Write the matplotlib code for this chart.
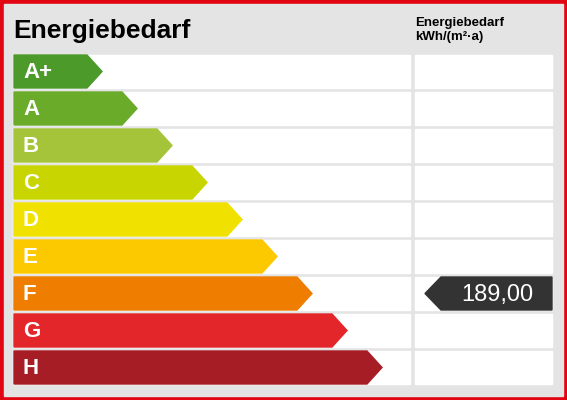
import matplotlib.pyplot as plt
from matplotlib.patches import Polygon, Rectangle

CLASSES = ["A+", "A", "B", "C", "D", "E", "F", "G", "H"]
COLORS = ["#4b9a2a", "#6aab2a", "#a5c43a", "#c9d500", "#f1e100",
          "#fcc800", "#ee7d00", "#e3262a", "#a61d26"]
VALUE_LABEL = "189,00"
VALUE_CLASS = "F"
TITLE = "Energiebedarf"
UNIT_LABEL = "Energiebedarf\nkWh/(m²·a)"

W, H = 567, 400
fig = plt.figure(figsize=(W / 100, H / 100), dpi=100)
ax = fig.add_axes([0, 0, 1, 1])
ax.set_xlim(0, W)
ax.set_ylim(H, 0)
ax.axis("off")

# red frame + grey background
ax.add_patch(Rectangle((0, 0), W, H, color="#e20613"))
ax.add_patch(Rectangle((4, 4), W - 8, H - 8, color="#e4e4e4"))

ax.text(13, 31, TITLE, fontsize=19, fontweight="bold", va="center",
        family="Liberation Sans")
ax.text(415, 30, UNIT_LABEL, fontsize=9.5, fontweight="bold", va="center",
        family="Liberation Sans", linespacing=1.3)

row_top = 55
pitch = 37
row_h = 33
for i, (cls, col) in enumerate(zip(CLASSES, COLORS)):
    y0 = row_top + i * pitch
    ax.add_patch(Rectangle((13, y0), 397, row_h, color="white"))
    ax.add_patch(Rectangle((415, y0), 137, row_h, color="white"))
    x1 = 87 + i * 35
    tip = 15
    ax.add_patch(Polygon([(14, y0), (x1, y0), (x1 + tip, y0 + row_h / 2),
                          (x1, y0 + row_h), (14, y0 + row_h)], color=col))
    ax.text(23, y0 + row_h / 2 + 1, cls, color="white", fontsize=16,
            fontweight="bold", va="center", family="Liberation Sans")
    if cls == VALUE_CLASS:
        ax.add_patch(Polygon([(552, y0), (441, y0), (425, y0 + row_h / 2),
                              (441, y0 + row_h), (552, y0 + row_h)],
                             color="#333333"))
        ax.text(497, y0 + row_h / 2 + 1, VALUE_LABEL, color="white",
                fontsize=17, ha="center", va="center", family="Liberation Sans")

fig.savefig("out.png", dpi=100)
